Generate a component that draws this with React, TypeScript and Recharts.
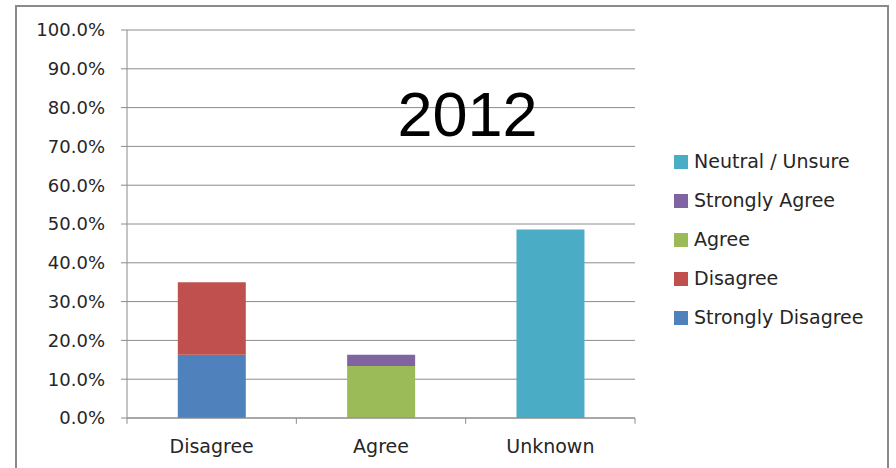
import { BarChart, Bar, XAxis, YAxis, CartesianGrid, Legend, ReferenceLine } from 'recharts'

// Survey responses for 2012, % of respondents, stacked per answer group.
const categories = ['Disagree', 'Agree', 'Unknown']
const stronglyDisagree = [16.3, 0, 0]
const disagree = [18.7, 0, 0]
const agree = [0, 13.4, 0]
const stronglyAgree = [0, 2.9, 0]
const neutral = [0, 0, 48.6]
const yTicks = [0, 10, 20, 30, 40, 50, 60, 70, 80, 90, 100]

// Stack order bottom -> top; the legend lists them top -> bottom.
const SERIES = [
  { key: 'sd', label: 'Strongly Disagree', color: '#4F81BD', values: stronglyDisagree },
  { key: 'd', label: 'Disagree', color: '#C0504D', values: disagree },
  { key: 'a', label: 'Agree', color: '#9BBB59', values: agree },
  { key: 'sa', label: 'Strongly Agree', color: '#8064A2', values: stronglyAgree },
  { key: 'n', label: 'Neutral / Unsure', color: '#4BACC6', values: neutral },
]

const FONT = '"DejaVu Sans", sans-serif'
const TEXT = '#262626'
const GRID = '#8c8c8c'

const data = categories.map((name, i) => {
  const row: Record<string, number | string> = { name }
  for (const s of SERIES) row[s.key] = s.values[i]
  return row
})

// Excel puts the x tick marks between categories, not under them.
const edgeMarks = [
  ...categories.map(c => ({ cat: c, pos: 'start' as const })),
  { cat: categories[categories.length - 1], pos: 'end' as const },
]

function LegendBox() {
  return (
    <div style={{ fontFamily: FONT, fontSize: 19, color: TEXT, textAlign: 'left' }}>
      {[...SERIES].reverse().map(s => (
        <div key={s.key} style={{ display: 'flex', alignItems: 'center', height: 39 }}>
          <span style={{ width: 14, height: 14, background: s.color, marginRight: 6, display: 'inline-block' }} />
          <span style={{ lineHeight: '19px', whiteSpace: 'nowrap' }}>{s.label}</span>
        </div>
      ))}
    </div>
  )
}

export default function App() {
  return (
    <div style={{ position: 'absolute', left: 0, top: 0, width: 896, height: 468, overflow: 'hidden', background: '#fff' }}>
      <BarChart
        width={896}
        height={468}
        data={data}
        margin={{ top: 30, right: 261, left: 0, bottom: 0 }}
        barCategoryGap="30%"
      >
        <CartesianGrid vertical={false} stroke={GRID} strokeWidth={1} />
        <XAxis
          dataKey="name"
          height={50}
          axisLine={{ stroke: GRID }}
          tickLine={false}
          tickSize={0}
          tickMargin={22}
          tick={{ fontFamily: FONT, fontSize: 19, fill: TEXT }}
        />
        <YAxis
          width={127}
          domain={[0, 100]}
          ticks={yTicks}
          interval={0}
          axisLine={{ stroke: GRID }}
          tickLine={{ stroke: GRID }}
          tickSize={6}
          tickMargin={16}
          tickFormatter={(v) => `${Number(v).toFixed(1)}%`}
          tick={{ fontFamily: FONT, fontSize: 18, fill: TEXT }}
        />
        <Legend
          layout="vertical"
          align="center"
          verticalAlign="middle"
          wrapperStyle={{ top: 142, left: 674, width: 220 }}
          content={() => <LegendBox />}
        />
        {SERIES.map(s => (
          <Bar key={s.key} dataKey={s.key} name={s.label} stackId="all" fill={s.color} isAnimationActive={false} />
        ))}
        {edgeMarks.map((m, i) => (
          <ReferenceLine
            key={i}
            segment={[{ x: m.cat, y: 0 }, { x: m.cat, y: -1.5 }]}
            position={m.pos}
            ifOverflow="visible"
            stroke={GRID}
          />
        ))}
      </BarChart>
      <svg width={896} height={468} style={{ position: 'absolute', left: 0, top: 0, pointerEvents: 'none' }}>
        <text x={467.5} y={136} textAnchor="middle" fontFamily='"Liberation Sans", Arial, sans-serif' fontSize={63} fill="#000">
          2012
        </text>
      </svg>
      <div
        style={{
          position: 'absolute', left: 15, top: 5, width: 874, height: 520,
          boxSizing: 'border-box', border: '2px solid #8a8a8a', pointerEvents: 'none',
        }}
      />
    </div>
  )
}
